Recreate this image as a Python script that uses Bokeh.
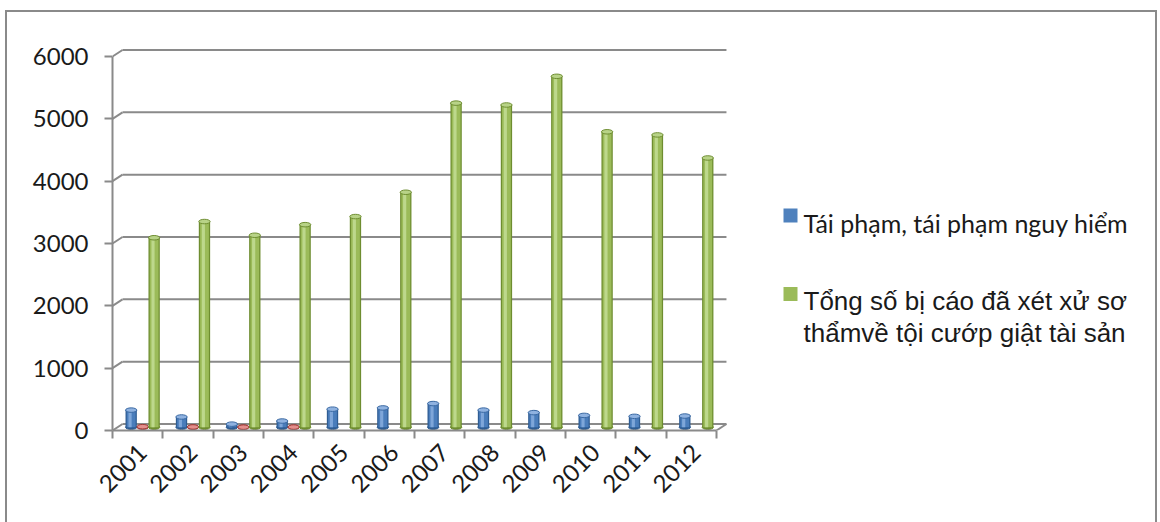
import math

from bokeh.core.properties import value
from bokeh.embed import file_html
from bokeh.models import FixedTicker, Range1d
from bokeh.plotting import figure
from bokeh.resources import INLINE

# ---- data -------------------------------------------------------------
years = ["2001", "2002", "2003", "2004", "2005", "2006",
         "2007", "2008", "2009", "2010", "2011", "2012"]
tai_pham = [275, 165, 50, 100, 290, 310, 380, 275, 235, 190, 175, 180]
ty_le = [9, 5, 2, 3, None, None, None, None, None, None, None, None]
tong_so = [3040, 3300, 3080, 3250, 3380, 3770, 5200, 5170, 5630, 4740, 4690, 4320]
y_ticks = [0, 1000, 2000, 3000, 4000, 5000, 6000]
legend_labels = ["Tái phạm, tái phạm nguy hiểm",
                 "Tổng số bị cáo đã xét xử sơ\nthẩmvề tội cướp giật tài sản"]

# ---- layout (pixels) --------------------------------------------------
W, H = 1160, 522
B_LEFT, B_RIGHT, B_TOP, B_BOTTOM = 112, 10, 30, 92
CAT_PX = 50.33                 # pixels per category
VAL_PX = 374.0 / 6000.0        # pixels per unit of value
DX = 10.0 / CAT_PX             # depth of the 3-D box, x
DY = 6.5 / VAL_PX              # depth of the 3-D box, y
n = len(years)

frame_w = W - B_LEFT - B_RIGHT
frame_h = H - B_TOP - B_BOTTOM


def ux(px):
    return (px - B_LEFT) / CAT_PX


def vy(py):
    return (H - B_BOTTOM - py) / VAL_PX


BORDER = "#8a8a8a"
line_img = f"linear-gradient({BORDER}, {BORDER})"

p = figure(width=W, height=H, output_backend="svg", toolbar_location=None,
           x_range=Range1d(0, frame_w / CAT_PX), y_range=Range1d(0, frame_h / VAL_PX),
           min_border_left=B_LEFT, min_border_right=B_RIGHT,
           min_border_top=B_TOP, min_border_bottom=B_BOTTOM)
p.background_fill_color = "white"
p.border_fill_color = None
p.outline_line_color = None
p.xgrid.visible = False
p.ygrid.visible = False
# thin frame round the whole chart area
p.styles = {
    "background-color": "white",
    "background-image": ", ".join([line_img] * 3),
    "background-size": "2px 520px, 1152px 2px, 2px 520px",
    "background-position": "5px 10px, 5px 10px, 1155px 10px",
    "background-repeat": "no-repeat",
}

GRID = "#8a8a8a"

# back wall gridlines with their short diagonals onto the front plane
p.segment(x0=[DX] * len(y_ticks), y0=[v + DY for v in y_ticks],
          x1=[n + DX] * len(y_ticks), y1=[v + DY for v in y_ticks],
          line_color=GRID, line_width=2)
p.segment(x0=[0] * len(y_ticks), y0=y_ticks,
          x1=[DX] * len(y_ticks), y1=[v + DY for v in y_ticks],
          line_color=GRID, line_width=2)
p.segment(x0=[n], y0=[0], x1=[n + DX], y1=[DY], line_color=GRID, line_width=2)

# ---- cylinders ---------------------------------------------------------
BAR_W = 0.225
STEP = 0.228
BASE = DY / 2.0
series = [
    (tai_pham, -STEP, dict(edge="#2f5d93", body="#4a7dbb", light="#7ea6d9",
                          top="#8fb2e0", top_line="#3a69a3")),
    (ty_le, 0.0, dict(edge="#9a3532", body="#c0504d", light="#dc8a88",
                      top="#e38f8c", top_line="#a43c39")),
    (tong_so, STEP, dict(edge="#6e8d30", body="#9bbb59", light="#bdd88c",
                         top="#b8d387", top_line="#6f8e32")),
]

for vals, off, c in series:
    idx = [i for i, v in enumerate(vals) if v is not None]
    xs = [i + 0.5 + DX / 2.0 + off for i in idx]
    tops = [vals[i] + BASE for i in idx]
    bases = [BASE] * len(idx)
    # bottom rim
    p.ellipse(x=xs, y=bases, width=BAR_W, height=4.5, height_units="screen",
              fill_color=c["edge"], line_color=c["edge"], line_width=1)
    # body with cylindrical shading
    p.vbar(x=xs, width=BAR_W, bottom=bases, top=tops,
           fill_color=c["edge"], line_color=None)
    p.vbar(x=xs, width=BAR_W * 0.78, bottom=bases, top=tops,
           fill_color=c["body"], line_color=None)
    p.vbar(x=[x - BAR_W * 0.1 for x in xs], width=BAR_W * 0.28, bottom=bases, top=tops,
           fill_color=c["light"], line_color=None)
    # top cap
    p.ellipse(x=xs, y=tops, width=BAR_W, height=4.5, height_units="screen",
              fill_color=c["top"], line_color=c["top_line"], line_width=1)

# ---- axes ---------------------------------------------------------------
yax = p.yaxis[0]
yax.bounds = (0, 6000)
yax.ticker = FixedTicker(ticks=y_ticks, minor_ticks=[])
yax.axis_line_color = GRID
yax.axis_line_width = 2
yax.major_tick_line_color = GRID
yax.major_tick_line_width = 2
yax.major_tick_out = 8
yax.major_tick_in = 0
yax.minor_tick_line_color = None
yax.major_label_standoff = 16
yax.major_label_text_font = "Lato"
yax.major_label_text_font_size = "24px"
yax.major_label_text_color = "#1a1a1a"

xax = p.xaxis[0]
xax.bounds = (0, n)
label_pos = [i + 0.6 for i in range(n)]
xax.ticker = FixedTicker(ticks=label_pos, minor_ticks=list(range(n + 1)))
xax.major_label_overrides = {c: y for c, y in zip(label_pos, years)}
xax.axis_line_color = GRID
xax.axis_line_width = 2
xax.major_tick_line_color = None
xax.major_tick_out = 0
xax.major_tick_in = 0
xax.minor_tick_line_color = GRID
xax.minor_tick_line_width = 2
xax.minor_tick_out = 8
xax.minor_tick_in = 0
xax.major_label_orientation = math.pi / 4
xax.major_label_standoff = 10
xax.major_label_text_font = "Lato"
xax.major_label_text_font_size = "24px"
xax.major_label_text_color = "#1a1a1a"

# ---- legend -------------------------------------------------------------
p.rect(x=[ux(790)], y=[vy(215)], width=14, height=14,
       width_units="screen", height_units="screen",
       fill_color="#4f81bd", line_color=None)
p.rect(x=[ux(790)], y=[vy(293.5)], width=14, height=14,
       width_units="screen", height_units="screen",
       fill_color="#9bbb59", line_color=None)
p.text(x=[ux(803)], y=[vy(222)], text=[legend_labels[0]],
       text_font=value("Lato"), text_font_size="25px",
       text_baseline="alphabetic", text_color="#1a1a1a")
lines = legend_labels[1].split("\n")
p.text(x=[ux(803)] * len(lines), y=[vy(300), vy(332)], text=lines,
       text_font=value("Liberation Sans"), text_font_size="26px",
       text_baseline="alphabetic", text_color="#1a1a1a")

open("out.html", "w").write(file_html(p, INLINE))
